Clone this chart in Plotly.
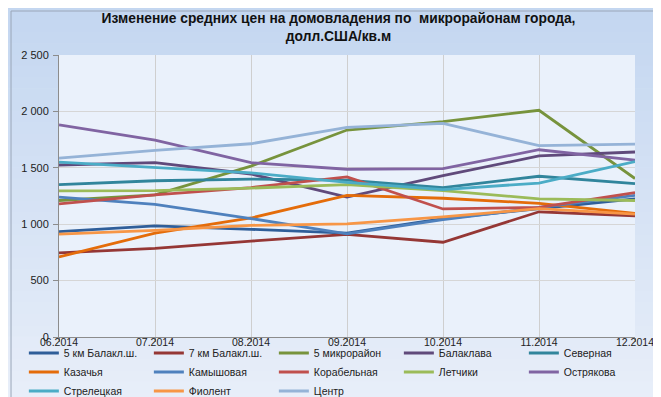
import plotly.graph_objects as go

months = ['06.2014', '07.2014', '08.2014', '09.2014', '10.2014', '11.2014', '12.2014']

km5_balakl = [935, 985, 955, 920, 1050, 1135, 1225]
km7_balakl = [745, 785, 850, 910, 840, 1110, 1075]
mkr5 = [1210, 1260, 1515, 1835, 1910, 2010, 1405]
balaklava = [1525, 1545, 1445, 1240, 1430, 1605, 1640]
severnaya = [1350, 1385, 1400, 1390, 1325, 1425, 1360]
kazachya = [710, 920, 1055, 1255, 1230, 1185, 1095]
kamyshovaya = [1240, 1175, 1050, 915, 1040, 1150, 1255]
korabelnaya = [1180, 1260, 1325, 1420, 1135, 1150, 1280]
letchiki = [1295, 1298, 1320, 1350, 1298, 1225, 1210]
ostryakova = [1880, 1745, 1545, 1487, 1493, 1660, 1568]
streletskaya = [1550, 1505, 1455, 1370, 1307, 1365, 1555]
fiolent = [912, 945, 990, 1002, 1065, 1138, 1090]
centr = [1585, 1655, 1713, 1858, 1893, 1696, 1710]

series_names = ['5 км Балакл.ш.', '7 км Балакл.ш.', '5 микрорайон', 'Балаклава', 'Северная',
                'Казачья', 'Камышовая', 'Корабельная', 'Летчики', 'Острякова',
                'Стрелецкая', 'Фиолент', 'Центр']
series_values = [km5_balakl, km7_balakl, mkr5, balaklava, severnaya,
                 kazachya, kamyshovaya, korabelnaya, letchiki, ostryakova,
                 streletskaya, fiolent, centr]
series_colors = ['#2F5E99', '#953735', '#77933C', '#604A7B', '#31859C',
                 '#E46C0A', '#4F81BD', '#C0504D', '#9BBB59', '#8064A2',
                 '#4BACC6', '#F79646', '#95B3D7']

fig = go.Figure()
for name, vals, col in zip(series_names, series_values, series_colors):
    fig.add_trace(go.Scatter(x=months, y=vals, name=name, mode='lines',
                             line=dict(color=col, width=2.8)))

# background gradient bands (paper)
shapes = []
n = 40
top = (0xC3, 0xD6, 0xF0)
bot = (0xEC, 0xF1, 0xFA)
for i in range(n):
    t = i / (n - 1)
    c = tuple(int(round(top[k] + (bot[k] - top[k]) * t)) for k in range(3))
    shapes.append(dict(type='rect', xref='paper', yref='paper', layer='below',
                       x0=-0.1, x1=1.1,
                       y0=1.2 - (i + 1) * 1.6 / n, y1=1.2 - i * 1.6 / n + 0.002,
                       fillcolor='rgb(%d,%d,%d)' % c, line=dict(width=0)))
# plot area background
shapes.append(dict(type='rect', xref='x domain', yref='y domain', layer='below',
                   x0=0, x1=1, y0=0, y1=1, fillcolor='#EAF1FB', line=dict(width=0)))

fig.update_layout(
    width=661, height=397,
    margin=dict(l=51, r=34, t=47, b=68, autoexpand=False),
    paper_bgcolor='#DCE6F6',
    plot_bgcolor='#EAF1FB',
    separators=', ',
    font=dict(family='Liberation Sans, Arial, sans-serif', size=11, color='#222222'),
    title=dict(text='<b>Изменение средних цен на домовладения по  микрорайонам города,<br>долл.США/кв.м</b>',
               x=0.5, xanchor='center', y=0.962, yanchor='top',
               font=dict(size=13.8, color='#111111')),
    shapes=shapes,
    showlegend=True,
    legend=dict(orientation='h', xref='paper', yref='paper',
                x=-0.061, xanchor='left', y=-0.0053, yanchor='top',
                entrywidth=80, entrywidthmode='pixels', itemwidth=30,
                font=dict(size=10.5, color='#222222'), bgcolor='rgba(0,0,0,0)',
                tracegroupgap=0, traceorder='normal'),
    xaxis=dict(type='category', range=[0, 6], showgrid=True, gridcolor='#CFCFCF',
               gridwidth=1, showline=True, linecolor='#8C8C8C', ticks='outside',
               ticklen=4, tickcolor='#8C8C8C', ticklabelstandoff=-9,
               tickfont=dict(size=10.5, color='#222222')),
    yaxis=dict(range=[0, 2500], dtick=500, tickformat=',', showgrid=True,
               gridcolor='#D6D6D6', gridwidth=1, showline=True, linecolor='#8C8C8C',
               ticks='outside', ticklen=5, tickcolor='#8C8C8C', zeroline=False,
               ticklabelstandoff=2,
               tickfont=dict(size=11, color='#222222')),
)

# outer border
fig.add_shape(type='rect', xref='paper', yref='paper', x0=-0.0833, x1=1.052,
              y0=-0.227, y1=1.156, line=dict(color='#9AA6B8', width=1),
              fillcolor='rgba(0,0,0,0)', layer='above')

fig.write_html('out.html')
